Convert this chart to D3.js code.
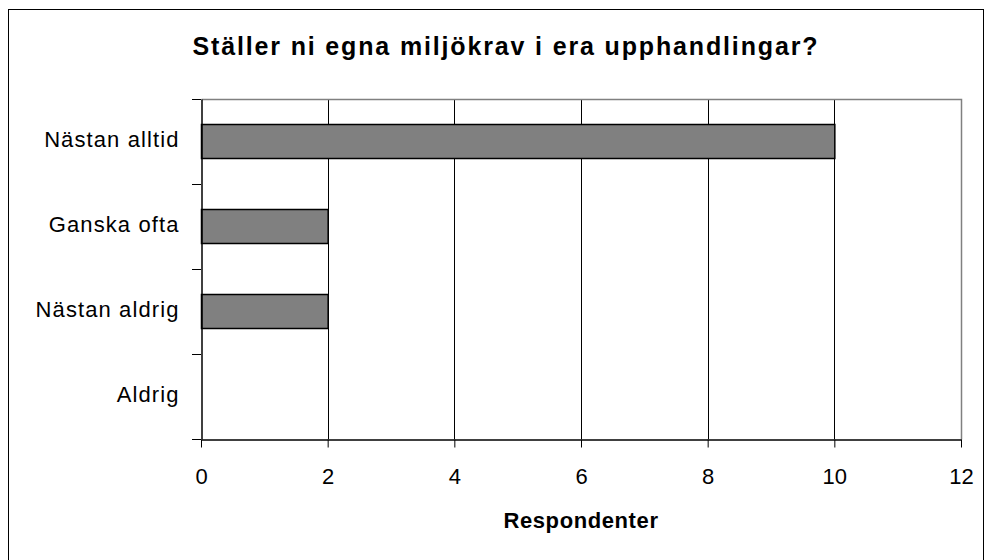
<!DOCTYPE html>
<html>
<head>
<meta charset="utf-8">
<script src="https://cdn.jsdelivr.net/npm/d3@7"></script>
<style>
  body { margin: 0; background: #fff; }
  text { font-family: "Liberation Sans", Arial, sans-serif; fill: #000; }
</style>
</head>
<body>
<svg id="chart"></svg>
<script>
var w = 984;
var h = 560;

var categories = ["Nästan alltid", "Ganska ofta", "Nästan aldrig", "Aldrig"];
var values = [10, 2, 2, 0];
var xTicks = [0, 2, 4, 6, 8, 10, 12];
var title = "Ställer ni egna miljökrav i era upphandlingar?";
var xTitle = "Respondenter";

var data = categories.map(function(c, i) { return {cat: c, val: values[i]} });

var svg = d3.select("#chart")
  .attr("width", w)
  .attr("height", h)

// chart border
svg.append("rect")
  .attr("x", 8.5).attr("y", 9.5)
  .attr("width", 975).attr("height", 560)
  .attr("fill", "none")
  .attr("stroke", "#000")

var pLeft = 201, pRight = 961, pTop = 99, pBottom = 439;

var x = d3.scaleLinear().domain([0, 12]).range([pLeft, pRight]);
var y = d3.scaleBand().domain(categories).range([pTop, pBottom])
  .paddingInner(0.6).paddingOuter(0.3);

// gridlines
svg.selectAll(".grid")
  .data(xTicks.filter(function(d) { return d > 0 && d < 12 }))
  .enter().append("line")
  .attr("x1", function(d) { return Math.round(x(d)) + 0.5 })
  .attr("x2", function(d) { return Math.round(x(d)) + 0.5 })
  .attr("y1", pTop).attr("y2", pBottom)
  .attr("stroke", "#000")

// plot frame top/right (gray)
svg.append("path")
  .attr("d", "M" + (pLeft + 0.5) + "," + (pTop + 0.5) + "H" + (pRight + 0.5) + "V" + (pBottom + 0.5))
  .attr("fill", "none")
  .attr("stroke", "#808080")
  .attr("stroke-width", 1.5)

// bars
svg.selectAll(".bar")
  .data(data.filter(function(d) { return d.val > 0 }))
  .enter().append("rect")
  .attr("class", "bar")
  .attr("x", x(0) + 0.5)
  .attr("y", function(d) { return y(d.cat) })
  .attr("width", function(d) { return x(d.val) - x(0) })
  .attr("height", y.bandwidth())
  .attr("fill", "#808080")
  .attr("stroke", "#000")
  .attr("stroke-width", 1.5)

// x axis
var xAxis = svg.append("g")
  .attr("transform", "translate(0," + (pBottom + 0.5) + ")")
  .call(d3.axisBottom(x).tickValues(xTicks).tickSize(8).tickPadding(20).tickSizeOuter(0))
xAxis.select(".domain").attr("stroke", "#000").attr("stroke-width", 1.5)
xAxis.selectAll(".tick line").attr("stroke", "#000")
xAxis.selectAll(".tick text")
  .attr("fill", "#000")
  .style("font-size", "22px")
  .attr("y", 44).attr("dy", 0)

// y axis
var yAxis = svg.append("g")
  .attr("transform", "translate(" + (pLeft + 0.5) + ",0)")
  .call(d3.axisLeft(y).tickSize(0).tickPadding(22))
yAxis.select(".domain").attr("stroke", "#000").attr("stroke-width", 1.5)
yAxis.selectAll(".tick text")
  .attr("fill", "#000")
  .style("font-size", "22px")
  .style("letter-spacing", "1.1px")
  .attr("dy", "0.26em")

// y ticks at band boundaries
var bounds = categories.map(function(c) { return y(c) - y.step() * y.paddingInner() / 2 });
bounds[0] = pTop;
bounds.push(pBottom);
svg.selectAll(".ytick")
  .data(bounds)
  .enter().append("line")
  .attr("x1", pLeft - 9).attr("x2", pLeft)
  .attr("y1", function(d) { return Math.round(d) + 0.5 })
  .attr("y2", function(d) { return Math.round(d) + 0.5 })
  .attr("stroke", "#000")

// title
svg.append("text")
  .attr("x", 505).attr("y", 55)
  .attr("text-anchor", "middle")
  .attr("textLength", 625)
  .style("font-size", "25px")
  .style("font-weight", "bold")
  .text(title)

svg.append("text")
  .attr("x", 581).attr("y", 528)
  .attr("text-anchor", "middle")
  .style("font-size", "22px")
  .style("font-weight", "bold")
  .style("letter-spacing", "0.6px")
  .text(xTitle)
</script>
</body>
</html>
